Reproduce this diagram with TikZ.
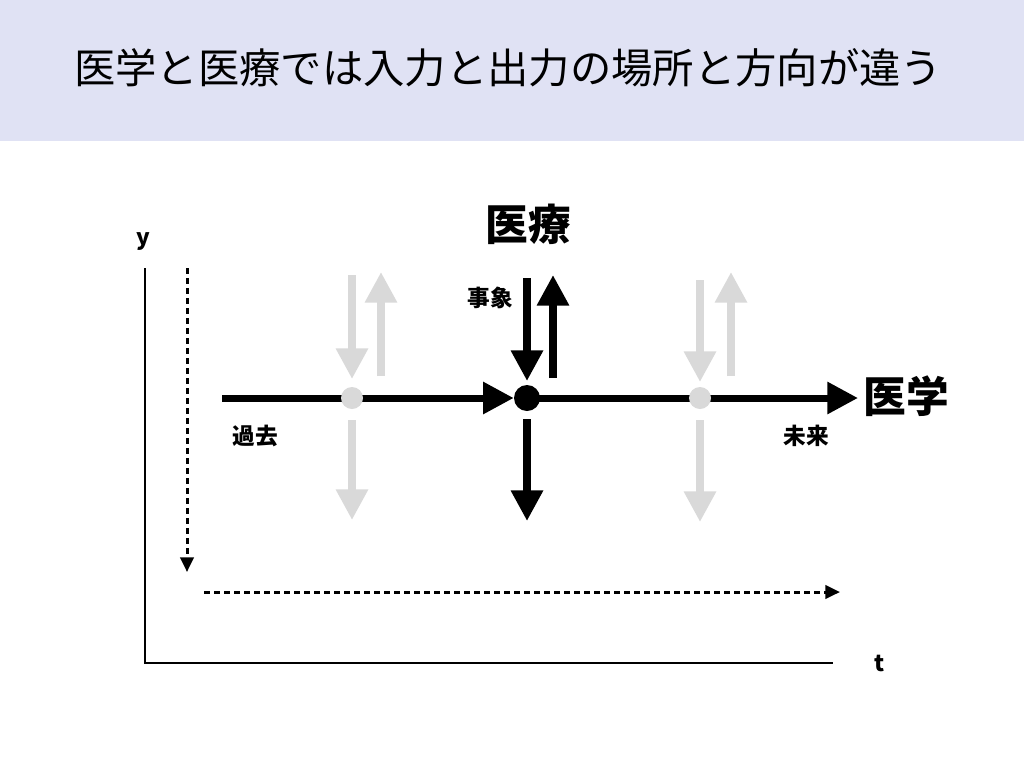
\documentclass[tikz,border=0pt]{standalone}
\usepackage{fontspec}
\setmainfont{Noto Sans CJK JP}
\usetikzlibrary{arrows.meta,backgrounds}
\definecolor{band}{HTML}{E0E2F4}
\definecolor{lgray}{HTML}{D9D9D9}
\begin{document}
\begin{tikzpicture}[x=0.75pt,y=-0.75pt,
  mainline/.style={line width=5.25pt},
  bigtip/.style={-{Triangle[length=23pt,width=23pt]}},
  varrow/.style={line width=5.5pt,-{Triangle[length=23pt,width=23pt]}},
  grayarrow/.style={varrow,lgray},
  blackarrow/.style={varrow,black},
  gdot/.style={circle,fill=lgray,minimum size=16.5pt,inner sep=0pt},
  bdot/.style={circle,fill=black,minimum size=19.5pt,inner sep=0pt},
  axisline/.style={line width=1.5pt},
  dasharrow/.style={line width=2.25pt,dash pattern=on 4.5pt off 3pt,-{Triangle[length=11pt,width=10pt]}},
  biglabel/.style={font=\bfseries\fontsize{32pt}{36pt}\selectfont},
  smalllabel/.style={font=\bfseries\fontsize{17pt}{20pt}\selectfont},
  axislabel/.style={font=\bfseries\fontsize{17pt}{20pt}\selectfont}]
\useasboundingbox (0,0) rectangle (1024,768);
\fill[band] (0,0) rectangle (1024,141);
\node (title) at (508,68) {\fontsize{31pt}{36pt}\selectfont 医学と医療では入力と出力の場所と方向が違う};

% axes
\coordinate (ytop) at (145,268);
\coordinate (origin) at (145,663);
\coordinate (xend) at (833,663);
\draw[axisline] (ytop) -- (origin) -- (xend);
\node[axislabel] (ylab) at (143,242) {y};
\node[axislabel] (tlab) at (880,663) {t};

% dashed arrows
\coordinate (dvs) at (187,268);
\coordinate (dve) at (187,572);
\draw[dasharrow] (dvs) -- (dve);
\coordinate (dhs) at (204,592);
\coordinate (dhe) at (840,592);
\draw[dasharrow] (dhs) -- (dhe);

% dots
\node[gdot] (g1) at (352,398) {};
\node[gdot] (g2) at (700,398) {};
\node[bdot] (ev) at (527,398) {};

% main line
\coordinate (ms) at (222,398);
\coordinate (me) at (858,398);
\begin{scope}[on background layer]
\draw[mainline,bigtip] (ms) -- (ev.west);
\draw[mainline,bigtip] (ev.center) -- (me);
\end{scope}

% gray arrows left
\coordinate (g1a) at (352,275); \coordinate (g1b) at (352,379);
\coordinate (g1c) at (381,376); \coordinate (g1d) at (381,272);
\coordinate (g1e) at (352,420); \coordinate (g1f) at (352,520);
\draw[grayarrow] (g1a) -- (g1b);
\draw[grayarrow] (g1c) -- (g1d);
\draw[grayarrow] (g1e) -- (g1f);

% gray arrows right
\coordinate (g2a) at (700,280); \coordinate (g2b) at (700,382);
\coordinate (g2c) at (731,376); \coordinate (g2d) at (731,272);
\coordinate (g2e) at (700,420); \coordinate (g2f) at (700,522);
\draw[grayarrow] (g2a) -- (g2b);
\draw[grayarrow] (g2c) -- (g2d);
\draw[grayarrow] (g2e) -- (g2f);

% black arrows
\coordinate (ba) at (527,278); \coordinate (bb) at (527,381);
\coordinate (bc) at (553,378); \coordinate (bd) at (553,275);
\coordinate (be) at (527,419); \coordinate (bf) at (527,521);
\draw[blackarrow] (ba) -- (bb);
\draw[blackarrow] (bc) -- (bd);
\draw[blackarrow] (be) -- (bf);

% labels
\node[biglabel] (iryo) at (528,224) {医療};
\node[biglabel] (igaku) at (906,396) {医学};
\node[smalllabel] (jisho) at (490,298) {事象};
\node[smalllabel] (kako) at (255,436) {過去};
\node[smalllabel] (mirai) at (806,436) {未来};
\end{tikzpicture}
\end{document}
